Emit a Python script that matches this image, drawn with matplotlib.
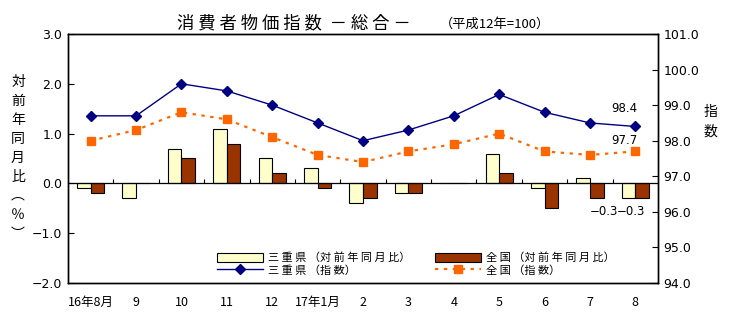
import matplotlib
matplotlib.use("Agg")
import matplotlib.pyplot as plt
import numpy as np

plt.rcParams["font.family"] = ["Noto Sans CJK JP", "DejaVu Sans"]

# ── Data ──────────────────────────────────────────────────────────────────────
MONTHS = ["16年8月", "9", "10", "11", "12", "17年1月", "2", "3", "4", "5", "6", "7", "8"]
MIE_YOY = [-0.1, -0.3, 0.7, 1.1, 0.5, 0.3, -0.4, -0.2, 0.0, 0.6, -0.1, 0.1, -0.3]
NAT_YOY = [-0.2, 0.0, 0.5, 0.8, 0.2, -0.1, -0.3, -0.2, 0.0, 0.2, -0.5, -0.3, -0.3]
MIE_IDX = [98.7, 98.7, 99.6, 99.4, 99.0, 98.5, 98.0, 98.3, 98.7, 99.3, 98.8, 98.5, 98.4]
NAT_IDX = [98.0, 98.3, 98.8, 98.6, 98.1, 97.6, 97.4, 97.7, 97.9, 98.2, 97.7, 97.6, 97.7]

C_MIE_BAR = "#FFFFCC"
C_NAT_BAR = "#993300"
C_MIE_LINE = "#000080"
C_NAT_LINE = "#FF6600"

# ── Figure ────────────────────────────────────────────────────────────────────
fig = plt.figure(figsize=(7.29, 3.28), dpi=100, facecolor="white")
ax = fig.add_axes([68 / 729, 1 - 283 / 328, 590 / 729, 249 / 328])
ax2 = ax.twinx()

x = np.arange(len(MONTHS))
w = 0.3
b1 = ax.bar(x - w / 2, MIE_YOY, w, color=C_MIE_BAR, edgecolor="black", linewidth=0.8,
            label="三重県（対前年同月比）", zorder=2)
b2 = ax.bar(x + w / 2, NAT_YOY, w, color=C_NAT_BAR, edgecolor="black", linewidth=0.8,
            label="全国（対前年同月比）", zorder=2)

# zero line with small category ticks
ax.axhline(0, color="black", linewidth=0.9, zorder=3)
ax.vlines(x[:-1] + 0.5, 0, 0.08, color="black", linewidth=0.8, zorder=3)

ax.set_xlim(-0.5, len(MONTHS) - 0.5)
ax.set_ylim(-2.0, 3.0)
ax.set_yticks(np.arange(-2, 3.1, 1))
ax.set_yticklabels([f"{v:.1f}".replace("-", "−") for v in np.arange(-2, 3.1, 1)], fontsize=9,
                   family="DejaVu Sans")
ax.set_xticks(x)
ax.set_xticklabels(MONTHS, fontsize=9)
ax.tick_params(axis="x", length=0, pad=9)
ax.tick_params(axis="y", direction="in", length=4, width=0.8, pad=4)

l1, = ax2.plot(x, MIE_IDX, color=C_MIE_LINE, linewidth=1, marker="D", markersize=5,
               label="三重県（指数）", zorder=4)
l2, = ax2.plot(x, NAT_IDX, color=C_NAT_LINE, linewidth=1.6, linestyle=(0, (1.5, 2.5)),
               marker="s", markersize=5.5, label="全国（指数）", zorder=4)
ax2.set_ylim(94.0, 101.0)
ax2.set_yticks(np.arange(94, 101.1, 1))
ax2.set_yticklabels([f"{v:.1f}" for v in np.arange(94, 101.1, 1)], fontsize=9,
                    family="DejaVu Sans")
ax2.tick_params(axis="y", direction="in", length=4, width=0.8, pad=4)

for a in (ax, ax2):
    for s in a.spines.values():
        s.set_linewidth(1.0)

# value annotations for the latest month
ax2.text(x[-1] - 0.25, MIE_IDX[-1] + 0.5, f"{MIE_IDX[-1]:.1f}", ha="center", va="center",
         fontsize=8.5, family="DejaVu Sans")
ax2.text(x[-1] - 0.25, NAT_IDX[-1] + 0.3, f"{NAT_IDX[-1]:.1f}", ha="center", va="center",
         fontsize=8.5, family="DejaVu Sans")
ax.text(x[-1] - 0.7, MIE_YOY[-1] - 0.27, f"{MIE_YOY[-1]:.1f}".replace("-", "−"),
        ha="center", va="center", fontsize=8.5, family="DejaVu Sans")
ax.text(x[-1] - 0.1, NAT_YOY[-1] - 0.27, f"{NAT_YOY[-1]:.1f}".replace("-", "−"),
        ha="center", va="center", fontsize=8.5, family="DejaVu Sans")

# axis labels as stacked vertical text
fig.text(18 / 729, 1 - 158 / 328, "対\n前\n年\n同\n月\n比\n︵\n％\n︶", ha="center", va="center",
         fontsize=10, linespacing=1.45)
fig.text(710 / 729, 1 - 122 / 328, "指\n数", ha="center", va="center", fontsize=10,
         linespacing=1.5)

# title
fig.text(177 / 729, 1 - 23 / 328, "消 費 者 物 価 指 数  － 総 合 －", ha="left", va="center",
         fontsize=12.5)
fig.text(440 / 729, 1 - 24 / 328, "（平成12年=100）", ha="left", va="center", fontsize=9.5)

leg = ax.legend([b1, l1, b2, l2],
                ["三 重 県 （対 前 年 同 月 比）", "三 重 県 （指 数）",
                 "全 国 （対 前 年 同 月 比）", "全 国 （指 数）"],
                ncol=2, frameon=False, fontsize=8, loc="lower left",
                bbox_to_anchor=(0.235, -0.01), handlelength=4.2, handleheight=0.8,
                columnspacing=2.2, labelspacing=0.15, handletextpad=0.4, numpoints=1)

fig.savefig("out.png", dpi=100, facecolor="white")
